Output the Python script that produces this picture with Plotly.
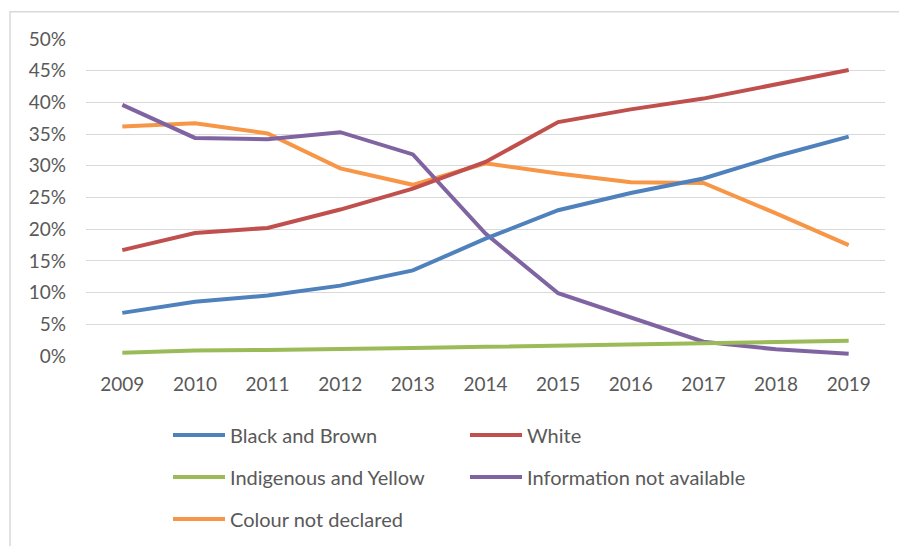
import plotly.graph_objects as go

years = ["2009", "2010", "2011", "2012", "2013", "2014", "2015", "2016", "2017", "2018", "2019"]
black_brown = [6.8, 8.55, 9.55, 11.1, 13.5, 18.5, 23.0, 25.7, 28.0, 31.5, 34.6]
white = [16.7, 19.4, 20.2, 23.1, 26.4, 30.6, 36.9, 38.9, 40.6, 42.9, 45.1]
indigenous_yellow = [0.5, 0.85, 0.95, 1.05, 1.25, 1.45, 1.65, 1.95, 2.05, 2.3, 2.4]
not_available = [39.6, 34.4, 34.2, 35.3, 31.8, 19.3, 9.9, 6.1, 2.25, 1.05, 0.35]
not_declared = [36.2, 36.7, 35.1, 29.6, 27.0, 30.4, 28.8, 27.4, 27.3, 22.5, 17.5]

names = ["Black and Brown", "White", "Indigenous and Yellow", "Information not available", "Colour not declared"]
series = [black_brown, white, indigenous_yellow, not_available, not_declared]
colors = ["#4F81BD", "#C0504D", "#9BBB59", "#8064A2", "#F79646"]
legends = ["legend", "legend", "legend2", "legend2", "legend3"]

fig = go.Figure()
for i in [4, 3, 2, 1, 0]:
    fig.add_trace(go.Scatter(
        x=years, y=[v / 100 for v in series[i]], name=names[i], mode="lines",
        line=dict(color=colors[i], width=4), legend=legends[i],
    ))

FONT = "Lato"
W, HT = 899, 546
H = 317.3
def py(p):
    return (356 - p) / H

def cy(p):
    return 1 - p / HT

leg_common = dict(orientation="h", xanchor="left", yanchor="middle",
                  xref="container", yref="container", x=168 / W,
                  font=dict(family=FONT, size=20, color="#595959"), itemwidth=52,
                  entrywidth=230, entrywidthmode="pixels", bgcolor="rgba(0,0,0,0)",
                  traceorder="reversed", itemclick=False)

fig.update_layout(
    width=W, height=HT,
    margin=dict(l=86, r=14, t=39, b=190, autoexpand=False),
    paper_bgcolor="white", plot_bgcolor="white",
    font=dict(family=FONT, size=19, color="#595959"),
    xaxis=dict(type="category", range=[-0.5, 10.5], showgrid=False, zeroline=False,
               showline=False, ticks="", ticklabelstandoff=15,
               tickfont=dict(family=FONT, size=19, color="#595959")),
    yaxis=dict(range=[0, 0.5], dtick=0.05, tickformat=".0%", showgrid=True,
               gridcolor="#D9D9D9", gridwidth=1, zeroline=False, showline=False,
               ticks="", ticklabelstandoff=19,
               tickfont=dict(family=FONT, size=19, color="#595959")),
    legend=dict(**leg_common, y=cy(435)),
    legend2=dict(**leg_common, y=cy(477)),
    legend3=dict(**leg_common, y=cy(519)),
    showlegend=True,
    shapes=[dict(type="rect", xref="paper", yref="paper",
                 x0=(10 - 86) / 799, x1=(905 - 86) / 799,
                 y0=py(560), y1=py(11.5),
                 line=dict(color="#D9D9D9", width=1.5), fillcolor="rgba(0,0,0,0)",
                 layer="below")],
)

fig.write_html("out.html")
